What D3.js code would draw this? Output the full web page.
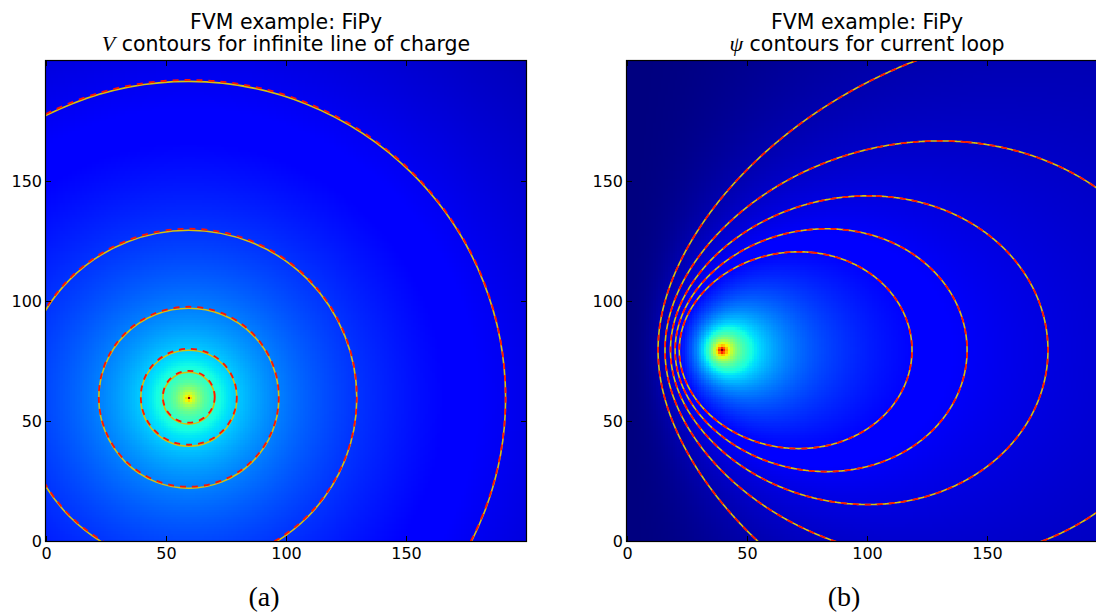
<!DOCTYPE html>
<html>
<head>
<meta charset="utf-8">
<script src="https://cdn.jsdelivr.net/npm/d3@7"></script>
<style>
  body { margin: 0; background: #fff; }
  svg { display: block; font-family: "DejaVu Sans", sans-serif; }
  .heat { image-rendering: pixelated; }
  .tick text { font-size: 16px; fill: #000; }
  .tick line { stroke: #000; }
</style>
</head>
<body>
<svg id="chart" width="1096" height="614"></svg>
<script>
// ---- data ----
const gridSize = 200;                        // mesh is 200 x 200 cells
const axisTicks = [0, 50, 100, 150];

// (a) infinite line of charge
const chargeX = 59.5, chargeY = 59.5;
const vContourRadii = [10.8, 20, 37.5, 70, 132];
const vDashedCenterY = 60.1;                 // dashed set sits a hair higher
const vColourAtR1 = 0.685, vColourSlope = 0.12;  // colour level = a - b ln r

// (b) current loop (cylindrical r = x, z = y)
const loopR = 39.5, loopZ = 79.5;
const psiPointsX = [118.75, 141.7, 175.4, 130, 120];   // one point on each contour
const psiPointsY = [79.5, 79.5, 79.5, 166.7, 200];
const psiColourMax = 170;

const titleLine1 = ["FVM example: FiPy", "FVM example: FiPy"];
const titleSymbol = ["V", "\u03C8"];
const titleLine2 = [" contours for infinite line of charge", " contours for current loop"];
const captions = ["(a)", "(b)"];

// ---- jet colour map built from linear scales ----
const jetR = d3.scaleLinear().domain([0, 0.35, 0.66, 0.89, 1]).range([0, 0, 1, 1, 0.5]).clamp(true);
const jetG = d3.scaleLinear().domain([0, 0.125, 0.375, 0.64, 0.91, 1]).range([0, 0, 1, 1, 0, 0]).clamp(true);
const jetB = d3.scaleLinear().domain([0, 0.11, 0.34, 0.65, 1]).range([0.5, 1, 1, 0, 0]).clamp(true);

// complete elliptic integrals K(m), E(m) by the AGM
function ellipKE(m) {
  let a = 1, b = Math.sqrt(1 - m), c = Math.sqrt(m), pow = 0.5, s = 0.5 * c * c;
  for (let n = 0; n < 40 && Math.abs(c) > 1e-13; n++) {
    const an = (a + b) / 2, bn = Math.sqrt(a * b);
    c = (a - b) / 2; pow *= 2; s += pow * c * c;
    a = an; b = bn;
  }
  const K = Math.PI / (2 * a);
  return [K, K * (1 - s)];
}

// flux function of a circular loop
function psi(r, z) {
  if (r <= 0) return 0;
  const dz = z - loopZ;
  const m = 4 * loopR * r / ((loopR + r) * (loopR + r) + dz * dz);
  if (m >= 1) return Infinity;
  const [K, E] = ellipKE(m);
  return Math.sqrt(loopR * r) / Math.sqrt(m) * ((2 - m) * K - 2 * E);
}

function colourA(x, y) {
  const r = Math.hypot(x - chargeX, y - chargeY);
  if (r < 0.5) return 1;
  return vColourAtR1 - vColourSlope * Math.log(r);
}
function colourB(x, y) {
  if (Math.hypot(x - loopR, y - loopZ) < 0.5) return 1;
  return psi(x, y) / psiColourMax;
}

function heatImage(tAt) {
  const canvas = document.createElement("canvas");
  canvas.width = canvas.height = gridSize;
  const ctx = canvas.getContext("2d");
  const img = ctx.createImageData(gridSize, gridSize);
  for (let row = 0; row < gridSize; row++) {
    const y = gridSize - 1 - row + 0.5;
    for (let i = 0; i < gridSize; i++) {
      const t = Math.max(0, Math.min(1, tAt(i + 0.5, y)));
      const k = (row * gridSize + i) * 4;
      img.data[k] = Math.round(255 * jetR(t));
      img.data[k + 1] = Math.round(255 * jetG(t));
      img.data[k + 2] = Math.round(255 * jetB(t));
      img.data[k + 3] = 255;
    }
  }
  ctx.putImageData(img, 0, 0);
  return canvas.toDataURL();
}

const svg = d3.select("#chart");
svg.append("rect").attr("width", 1096).attr("height", 614).attr("fill", "#fff");

const panels = [
  { left: 46, top: 61, size: 480, captionX: 264, heat: colourA },
  { left: 627, top: 61, size: 480, captionX: 844, heat: colourB }
];

const yellow = "#d7c10c", red = "#ff1400";

panels.forEach((p, idx) => {
  const x = d3.scaleLinear().domain([0, gridSize]).range([p.left, p.left + p.size]);
  const y = d3.scaleLinear().domain([0, gridSize]).range([p.top + p.size, p.top]);
  const g = svg.append("g");

  const clipId = "clip" + idx;
  g.append("clipPath").attr("id", clipId)
    .append("rect").attr("x", p.left).attr("y", p.top).attr("width", p.size).attr("height", p.size);

  // 1. heat map
  g.append("image").attr("class", "heat")
    .attr("x", x(0)).attr("y", y(gridSize))
    .attr("width", x(gridSize) - x(0)).attr("height", y(0) - y(gridSize))
    .attr("preserveAspectRatio", "none")
    .attr("href", heatImage(p.heat));

  const lines = g.append("g").attr("clip-path", `url(#${clipId})`).attr("fill", "none");

  // 2. contours
  if (idx === 0) {
    const unit = x(1) - x(0);
    lines.selectAll("circle.solid").data(vContourRadii).enter().append("circle")
      .attr("cx", x(chargeX)).attr("cy", y(chargeY)).attr("r", d => d * unit)
      .attr("stroke", yellow).attr("stroke-width", 1.6);
    lines.selectAll("circle.dash").data(vContourRadii).enter().append("circle")
      .attr("cx", x(chargeX)).attr("cy", y(vDashedCenterY)).attr("r", d => d * unit)
      .attr("stroke", red).attr("stroke-width", 1.8).attr("stroke-dasharray", "6,6");
  } else {
    const pad = 10, step = 0.5, n = (gridSize + 2 * pad) / step;
    const values = new Float64Array(n * n);
    for (let j = 0; j < n; j++) {
      for (let i = 0; i < n; i++) {
        values[i + j * n] = psi(-pad + (i + 0.5) * step, -pad + (j + 0.5) * step);
      }
    }
    const levels = psiPointsX.map((px, i) => psi(px, psiPointsY[i]));
    const contours = d3.contours().size([n, n]).thresholds(levels)(values);
    const path = d3.geoPath(d3.geoTransform({
      point(cx, cy) { this.stream.point(x(-pad + cx * step), y(-pad + cy * step)); }
    }));
    lines.selectAll("path.solid").data(contours).enter().append("path")
      .attr("d", path).attr("stroke", yellow).attr("stroke-width", 1.6);
    lines.selectAll("path.dash").data(contours).enter().append("path")
      .attr("d", path).attr("stroke", red).attr("stroke-width", 1.8).attr("stroke-dasharray", "6,6");
  }

  // 3. axes with inward ticks on all sides
  const tick = 5;
  g.append("g").attr("transform", `translate(0,${y(0)})`)
    .call(d3.axisBottom(x).tickValues(axisTicks).tickSize(-tick).tickPadding(7))
    .call(a => a.select(".domain").remove());
  g.append("g").attr("transform", `translate(${x(0)},0)`)
    .call(d3.axisLeft(y).tickValues(axisTicks).tickSize(-tick).tickPadding(4))
    .call(a => a.select(".domain").remove());
  g.append("g").attr("transform", `translate(0,${y(gridSize)})`)
    .call(d3.axisTop(x).tickValues(axisTicks).tickSize(-tick).tickFormat(""))
    .call(a => a.select(".domain").remove());
  g.append("g").attr("transform", `translate(${x(gridSize)},0)`)
    .call(d3.axisRight(y).tickValues(axisTicks).tickSize(-tick).tickFormat(""))
    .call(a => a.select(".domain").remove());
  g.selectAll(".tick text").attr("font-family", "DejaVu Sans, sans-serif").attr("font-size", 16);

  g.append("rect").attr("x", x(0) - 0.5).attr("y", y(gridSize) - 0.5)
    .attr("width", p.size + 1).attr("height", p.size + 1)
    .attr("fill", "none").attr("stroke", "#000").attr("stroke-width", 1.2);

  // 4. titles and caption
  const cx = p.left + p.size / 2;
  svg.append("text").attr("x", cx).attr("y", 29).attr("text-anchor", "middle")
    .attr("font-size", 20.5).text(titleLine1[idx]);
  const t2 = svg.append("text").attr("x", cx).attr("y", 51).attr("text-anchor", "middle")
    .attr("font-size", 20.5);
  t2.append("tspan").attr("font-family", "Liberation Serif, serif").attr("font-style", "italic")
    .attr("font-size", 22).text(titleSymbol[idx]);
  t2.append("tspan").text(titleLine2[idx]);

  svg.append("text").attr("x", p.captionX).attr("y", 606).attr("text-anchor", "middle")
    .attr("font-family", "Liberation Serif, serif").attr("font-size", 28).text(captions[idx]);
});
</script>
</body>
</html>
